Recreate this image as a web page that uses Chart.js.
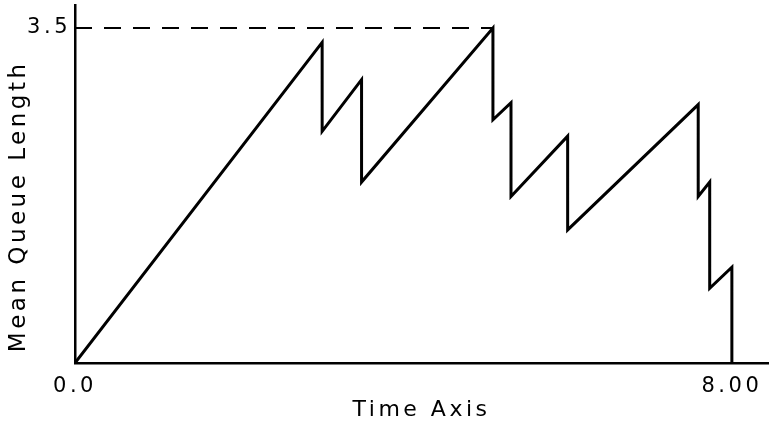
<!DOCTYPE html>
<html>
<head>
<meta charset="utf-8">
<script src="https://cdn.jsdelivr.net/npm/chart.js@4"></script>
<style>
  html, body { margin: 0; padding: 0; background: #fff; }
  #wrap { width: 771px; height: 425px; }
</style>
</head>
<body>
<div id="wrap"><canvas id="queue-chart"></canvas></div>
<script>
// values
const timePoints  = [0, 3.01, 3.01, 3.49, 3.49, 5.09, 5.09, 5.31, 5.31, 6.00, 6.00, 7.59, 7.59, 7.73, 7.73, 8.00, 8.00]
const queueLength = [0, 3.35, 2.42, 2.96, 1.89, 3.50, 2.54, 2.72, 1.74, 2.37, 1.39, 2.70, 1.74, 1.89, 0.78, 1.00, 0]

const refTime = [0, 5.09]
const refLevel = [3.5, 3.5]

const xTicks = [0, 8]
const xTickLabels = ['0.0', '8.00']
const yTicks = [3.5]
const yTickLabels = ['3.5']

const queuePoints = timePoints.map((t, i) => ({ x: t, y: queueLength[i] }))
const refPoints = refTime.map((t, i) => ({ x: t, y: refLevel[i] }))

const labelFont = { family: 'DejaVu Sans', size: 21 }

// the old lettering is widely spaced
const spacedText = {
  id: 'spacedText',
  beforeLayout(chart) { chart.ctx.letterSpacing = '3.5px' },
  beforeDraw(chart) { chart.ctx.letterSpacing = '3.5px' }
}

const ctx = document.getElementById('queue-chart')

const queueChart = new Chart(ctx, {
  type: 'scatter',
  data: {
    datasets: [{
      label: 'Mean Queue Length',
      data: queuePoints,
      showLine: true,
      borderColor: '#000',
      borderWidth: 3,
      pointRadius: 0,
      tension: 0
    }, {
      label: '3.5 level',
      data: refPoints,
      showLine: true,
      borderColor: '#000',
      borderWidth: 2,
      borderDash: [17, 12],
      pointRadius: 0
    }]
  },
  options: {
    responsive: true,
    maintainAspectRatio: false,
    animation: false,
    layout: { padding: { top: 5, right: 3, left: 0, bottom: 0 } },
    plugins: {
      legend: { display: false },
      tooltip: { enabled: false }
    },
    scales: {
      x: {
        type: 'linear',
        min: 0,
        max: 8.44,
        grid: { display: false, drawTicks: false },
        border: { display: true, color: '#000', width: 2.5 },
        afterBuildTicks: (scale) => {
          scale.ticks = xTicks.map(v => ({ value: v }))
        },
        afterFit: (scale) => {
          scale.height = 62
          scale.paddingLeft = 0
          scale.paddingRight = 0
        },
        ticks: {
          color: '#000',
          font: labelFont,
          padding: 11,
          maxRotation: 0,
          autoSkip: false,
          callback: (value) => xTickLabels[xTicks.indexOf(value)]
        },
        title: {
          display: true,
          text: 'Time Axis',
          color: '#000',
          font: { family: 'DejaVu Sans', size: 22 },
          padding: { top: 0, bottom: 2 }
        }
      },
      y: {
        type: 'linear',
        min: 0,
        max: 3.74,
        grid: { display: false, drawTicks: false },
        border: { display: true, color: '#000', width: 2.5 },
        afterBuildTicks: (scale) => {
          scale.ticks = yTicks.map(v => ({ value: v }))
        },
        afterFit: (scale) => {
          scale.width = 75
          scale.paddingTop = 0
          scale.paddingBottom = 0
        },
        ticks: {
          color: '#000',
          font: labelFont,
          padding: 4,
          autoSkip: false,
          callback: (value) => yTickLabels[yTicks.indexOf(value)]
        },
        title: {
          display: true,
          text: ' Mean Queue Length',
          align: 'start',
          color: '#000',
          font: { family: 'DejaVu Sans', size: 23 },
          padding: { top: 5, bottom: 0 }
        }
      }
    }
  },
  plugins: [spacedText]
})
</script>
</body>
</html>
